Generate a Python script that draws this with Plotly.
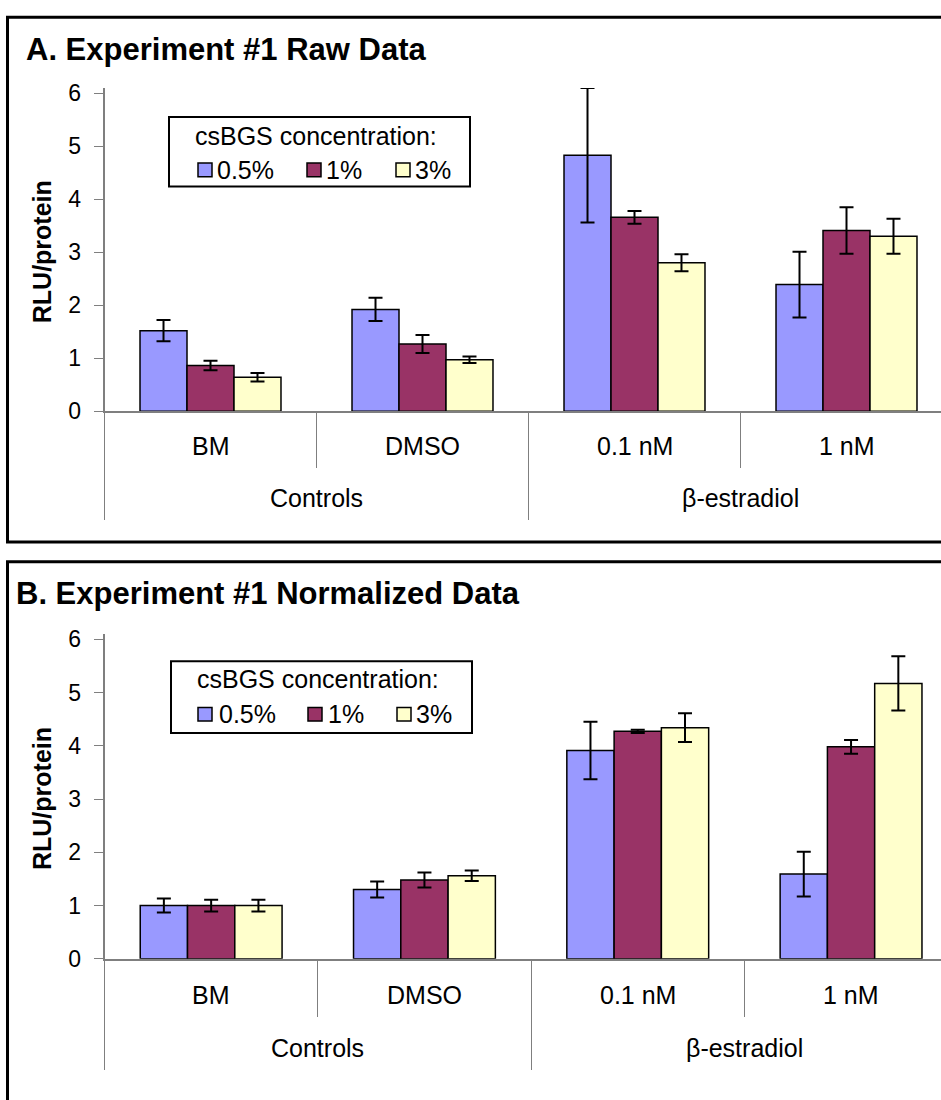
import plotly.graph_objects as go

# ---- data -------------------------------------------------------------
categories = ["BM", "DMSO", "0.1 nM", "1 nM"]
groups = ["Controls", "β-estradiol"]
group_centers = [0.5, 2.5]
series_names = ["0.5%", "1%", "3%"]
series_colors = ["#9999FF", "#993366", "#FFFFCC"]

# Experiment #1 raw data (RLU/protein)
raw_05 = [1.52, 1.92, 4.83, 2.39]
raw_05_err = [0.20, 0.22, 1.27, 0.62]
raw_1 = [0.86, 1.27, 3.66, 3.41]
raw_1_err = [0.09, 0.17, 0.12, 0.44]
raw_3 = [0.64, 0.97, 2.80, 3.30]
raw_3_err = [0.08, 0.06, 0.16, 0.33]

# Experiment #1 normalized data
norm_05 = [1.00, 1.30, 3.91, 1.59]
norm_05_err = [0.13, 0.15, 0.54, 0.42]
norm_1 = [1.00, 1.48, 4.27, 3.98]
norm_1_err = [0.11, 0.14, 0.03, 0.13]
norm_3 = [1.00, 1.56, 4.34, 5.17]
norm_3_err = [0.11, 0.10, 0.27, 0.51]

y_ticks = [0, 1, 2, 3, 4, 5, 6]
y_max = 6.1  # axis line runs a little past the top tick

# ---- page geometry (pixels) ------------------------------------------
W, H = 941, 1100
FONT = "Liberation Sans, Arial, sans-serif"


def px_x(p):
    return p / W


def px_y(p):
    return 1 - p / H


panels = [
    dict(
        title="A. Experiment #1 Raw Data", title_x=24, title_y=42,
        vals=[raw_05, raw_1, raw_3], errs=[raw_05_err, raw_1_err, raw_3_err],
        axis_left=104.5, cat_w=212.0, y_six=87, y_zero=411,
        long_div=107, short_div=55, cat_label_y=447, group_label_y=500,
        box_top=9.5, box_bottom=544.5,
        leg=dict(x0=169, x1=470, y0=111, y1=182, title_x=193, title_y=130,
                 item_y=165, sq=[198, 307, 396], txt=[215, 324, 413]),
    ),
    dict(
        title="B. Experiment #1 Normalized Data", title_x=14, title_y=597,
        vals=[norm_05, norm_1, norm_3], errs=[norm_05_err, norm_1_err, norm_3_err],
        axis_left=104.5, cat_w=213.3, y_six=643.5, y_zero=969.3,
        long_div=109, short_div=56, cat_label_y=1006, group_label_y=1060,
        box_top=564.5, box_bottom=1130,
        leg=dict(x0=171, x1=472, y0=666, y1=739, title_x=195, title_y=684,
                 item_y=720, sq=[198, 308, 397], txt=[217, 326, 414]),
    ),
]

fig = go.Figure()
shapes = []
annotations = []

for k, p in enumerate(panels):
    suffix = "" if k == 0 else str(k + 1)
    xref, yref = "x" + suffix, "y" + suffix

    for name, color, v, e in zip(series_names, series_colors, p["vals"], p["errs"]):
        fig.add_trace(go.Bar(
            x=list(range(len(categories))), y=v, name=name,
            xaxis=xref, yaxis=yref, offsetgroup=name, showlegend=False,
            marker=dict(color=color, line=dict(color="black", width=1.5)),
            error_y=dict(type="data", array=e, visible=True,
                         color="black", thickness=2, width=7),
        ))

    unit = (p["y_zero"] - p["y_six"]) / 6.0
    y_top_px = p["y_zero"] - unit * y_max
    x_end = -0.5 + (W - p["axis_left"]) / p["cat_w"]
    fig.layout["xaxis" + suffix] = dict(
        domain=[px_x(p["axis_left"]), 1], range=[-0.5, x_end], anchor=yref,
        showline=True, linecolor="#7f7f7f", linewidth=1.5,
        showgrid=False, zeroline=False, showticklabels=False,
        tickmode="array", tickvals=[-0.5, 1.5, 3.5], ticks="outside",
        ticklen=p["long_div"], tickcolor="#7f7f7f", tickwidth=1.3,
        minor=dict(tickmode="array", tickvals=[0.5, 2.5], ticks="outside",
                   ticklen=p["short_div"], tickcolor="#7f7f7f", tickwidth=1.3),
        fixedrange=True,
    )
    fig.layout["yaxis" + suffix] = dict(
        domain=[px_y(p["y_zero"]), px_y(y_top_px)], range=[0, y_max], anchor=xref,
        tickmode="array", tickvals=y_ticks, ticks="outside", ticklen=9,
        tickcolor="#7f7f7f", tickwidth=1.3, ticklabelstandoff=8,
        showline=True, linecolor="#7f7f7f", linewidth=1.5,
        showgrid=False, zeroline=False,
        tickfont=dict(family=FONT, size=23, color="black"),
        fixedrange=True,
    )

    # panel frame
    shapes.append(dict(type="rect", xref="paper", yref="paper",
                       x0=px_x(7.5), x1=1.05, y0=px_y(p["box_bottom"]), y1=px_y(p["box_top"]),
                       line=dict(color="black", width=3), layer="below"))

    # panel title
    annotations.append(dict(text="<b>%s</b>" % p["title"], xref="paper", yref="paper",
                            x=px_x(p["title_x"]), y=px_y(p["title_y"]),
                            xanchor="left", yanchor="middle", showarrow=False,
                            font=dict(family=FONT, size=31, color="black")))
    # y-axis title
    annotations.append(dict(text="<b>RLU/protein</b>", xref="paper", yref="paper",
                            x=px_x(42), y=px_y((p["y_six"] + p["y_zero"]) / 2),
                            textangle=-90, xanchor="center", yanchor="middle",
                            showarrow=False, font=dict(family=FONT, size=25, color="black")))
    # category and group labels
    for i, c in enumerate(categories):
        annotations.append(dict(text=c, xref=xref, yref="paper", x=i,
                                y=px_y(p["cat_label_y"]), showarrow=False,
                                xanchor="center", yanchor="middle",
                                font=dict(family=FONT, size=25, color="black")))
    for gx, g in zip(group_centers, groups):
        annotations.append(dict(text=g, xref=xref, yref="paper", x=gx,
                                y=px_y(p["group_label_y"]), showarrow=False,
                                xanchor="center", yanchor="middle",
                                font=dict(family=FONT, size=25, color="black")))

    # legend box
    lg = p["leg"]
    shapes.append(dict(type="rect", xref="paper", yref="paper",
                       x0=px_x(lg["x0"]), x1=px_x(lg["x1"]),
                       y0=px_y(lg["y1"]), y1=px_y(lg["y0"]),
                       fillcolor="white", line=dict(color="black", width=2)))
    annotations.append(dict(text="csBGS concentration:", xref="paper", yref="paper",
                            x=px_x(lg["title_x"]), y=px_y(lg["title_y"]),
                            xanchor="left", yanchor="middle", showarrow=False,
                            font=dict(family=FONT, size=25, color="black")))
    for name, color, sx, tx in zip(series_names, series_colors, lg["sq"], lg["txt"]):
        shapes.append(dict(type="rect", xref="paper", yref="paper",
                           x0=px_x(sx), x1=px_x(sx + 14),
                           y0=px_y(lg["item_y"] + 7), y1=px_y(lg["item_y"] - 7),
                           fillcolor=color, line=dict(color="black", width=1.5)))
        annotations.append(dict(text=name, xref="paper", yref="paper",
                                x=px_x(tx), y=px_y(lg["item_y"]),
                                xanchor="left", yanchor="middle", showarrow=False,
                                font=dict(family=FONT, size=25, color="black")))

fig.update_layout(
    width=W, height=H,
    margin=dict(l=0, r=0, t=0, b=0),
    paper_bgcolor="white", plot_bgcolor="white",
    barmode="group", bargap=0.335, bargroupgap=0,
    font=dict(family=FONT, color="black"),
    shapes=shapes, annotations=annotations,
    showlegend=False,
)

# the figure fills the page exactly, so drop the browser's default body margin
fig.write_html(
    "out.html",
    config={"displayModeBar": False},
    post_script="document.body.style.margin='0px';document.body.style.overflow='hidden';",
)
